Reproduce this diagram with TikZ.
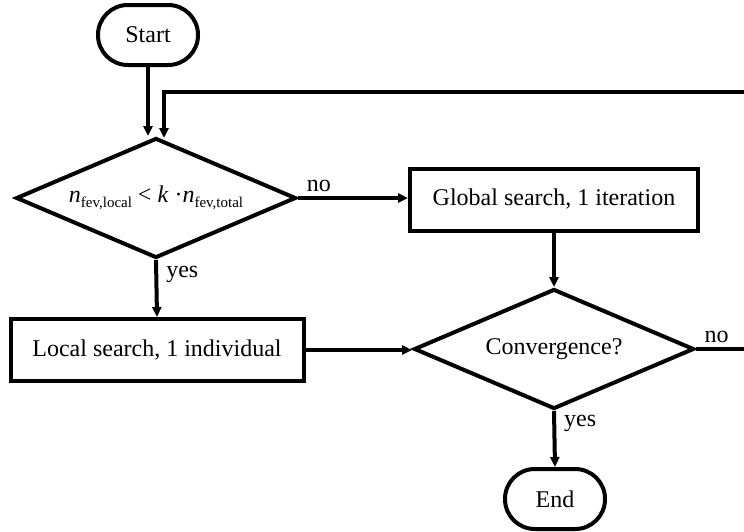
\documentclass[tikz,border=0pt]{standalone}
\usepackage{fontspec}
\setmainfont{Liberation Serif}
\usetikzlibrary{shapes.geometric,arrows.meta}
\tikzset{
  term/.style={draw, line width=2pt, rounded corners=14.9pt, minimum width=50pt, minimum height=30pt},
  proc/.style={draw, line width=2pt, minimum height=31pt},
  decide/.style={draw, line width=2pt, shape=diamond, aspect=2.33, minimum width=140pt, minimum height=60pt, inner sep=0pt},
  arr/.style={line width=2pt, -{Triangle[length=5pt,width=4.5pt]}},
  lbl/.style={inner sep=4pt},
}
\newcommand{\subtxt}[1]{\raisebox{-0.45ex}{\fontsize{7.5}{9}\selectfont #1}}
\begin{document}
\begin{tikzpicture}[x=0.5pt,y=-0.5pt,font=\fontsize{12}{14}\selectfont]
        \useasboundingbox (0,0) rectangle (744,531);
        % 開始と終了
        \node[term] (start) at (148,35) {Start};
        \node[term] (end) at (555,499) {End};
        % 判定
        \node[decide] (dec) at (156,198) {\textit{n}\subtxt{fev,local} < \textit{k} ·\textit{n}\subtxt{fev,total}};
        \node[decide] (conv) at (554,349) {Convergence?};
        % 処理
        \node[proc, minimum width=144pt] (glob) at (554,199.5) {Global search, 1 iteration};
        \node[proc, minimum width=146.5pt] (loc) at (157,350) {Local search, 1 individual};
        % 矢印
        \draw[arr] (start.south) -- (start.south |- dec.north);
        \draw[arr] (dec.east) -- node[lbl, above, inner sep=2pt, pos=0.19] {no} (dec.east -| glob.west);
        \draw[arr] (dec.south) -- node[lbl, right, pos=0.25] {yes} (loc.north);
        \draw[arr] (glob.south) -- (conv.north);
        \draw[arr] (loc.east) -- (loc.east -| conv.west);
        \draw[arr] (conv.south) -- node[lbl, right, pos=0.23] {yes} (end.north);
        % 戻りのループ
        \coordinate (fbA) at (750,349);
        \coordinate (fbB) at (750,92);
        \coordinate (fbC) at (164,92);
        \coordinate (fbD) at (164,138);
        \draw[arr] (conv.east) -- node[lbl, above, inner sep=2pt, pos=0.38] {no} (fbA) -- (fbB) -- (fbC) -- (fbD);
      \end{tikzpicture}
\end{document}
